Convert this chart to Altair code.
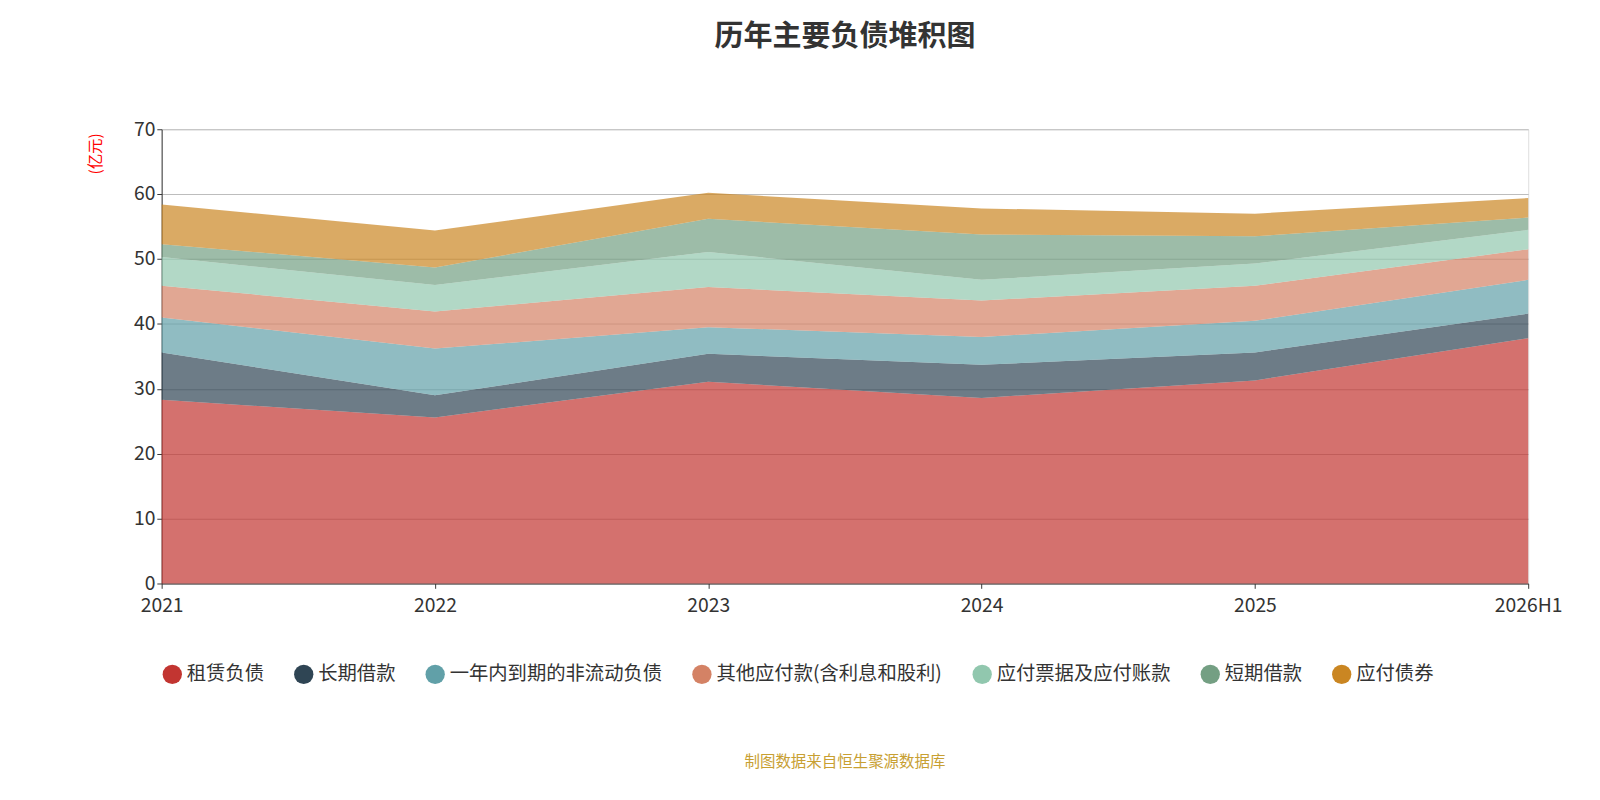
import pandas as pd
import altair as alt

years = ["2021", "2022", "2023", "2024", "2025", "2026H1"]
series = ["租赁负债", "长期借款", "一年内到期的非流动负债", "其他应付款(含利息和股利)",
          "应付票据及应付账款", "短期借款", "应付债券"]
colors = ["#c23531", "#2f4554", "#61a0a8", "#d48265", "#91c7ae", "#749f83", "#ca8622"]

# values per series (亿元)
zulin = [28.3, 25.6, 31.1, 28.6, 31.3, 37.8]
changqi = [7.3, 3.4, 4.3, 5.1, 4.3, 3.8]
yinian = [5.4, 7.2, 4.1, 4.3, 4.9, 5.2]
qita = [4.9, 5.7, 6.2, 5.6, 5.4, 4.7]
piaoju = [4.4, 4.1, 5.4, 3.2, 3.4, 3.0]
duanqi = [2.0, 2.7, 5.1, 7.0, 4.2, 1.9]
zhaiquan = [6.1, 5.7, 4.0, 4.0, 3.5, 3.0]

vals = [zulin, changqi, yinian, qita, piaoju, duanqi, zhaiquan]
rows = []
for i, (name, v) in enumerate(zip(series, vals)):
    for y, x in zip(years, v):
        rows.append({"year": y, "name": name, "value": x, "idx": i})
df = pd.DataFrame(rows)

area = alt.Chart(df).mark_area(opacity=0.7).encode(
    x=alt.X("year:O", sort=years, scale=alt.Scale(type="point", padding=0),
            axis=alt.Axis(title=None, labelAngle=0, labelFontSize=20, labelColor="#333",
                          domainColor="#333", tickColor="#333", labelFlush=False, labelPadding=8)),
    y=alt.Y("value:Q", stack="zero", scale=alt.Scale(domain=[0, 70]),
            axis=alt.Axis(title="(亿元)", titleColor="red", titleFontSize=16, titleFontWeight="normal",
                          titleAngle=-90, titleX=-60, titleY=25, titleAlign="center",
                          values=[0, 10, 20, 30, 40, 50, 60, 70],
                          labelFontSize=20, labelColor="#333", domainColor="#333", tickColor="#333",
                          gridColor="#bbb")),
    color=alt.Color("name:N", sort=series, scale=alt.Scale(domain=series, range=colors),
                    legend=alt.Legend(title=None, orient="bottom", direction="horizontal",
                                      symbolType="circle", symbolSize=400, symbolOpacity=1,
                                      labelFontSize=20, labelColor="#333", columnPadding=30,
                                      offset=50, labelLimit=400)),
    order=alt.Order("idx:Q"),
)

footer = alt.Chart(pd.DataFrame({"t": ["制图数据来自恒生聚源数据库"]})).mark_text(
    fontSize=16, color="#c8a032"
).encode(text="t:N", x=alt.value(707), y=alt.value(655))

chart = alt.layer(area, footer).properties(
    width=1414, height=470,
    padding={"left": 83, "top": 2, "right": 30, "bottom": 2},
    title=alt.TitleParams("历年主要负债堆积图", fontSize=30, fontWeight="bold", color="#333",
                          offset=70, anchor="middle"),
).configure_view(stroke=None).configure(font="Noto Sans CJK SC")

chart.save("out.html", embed_options={"renderer": "svg", "actions": False})
